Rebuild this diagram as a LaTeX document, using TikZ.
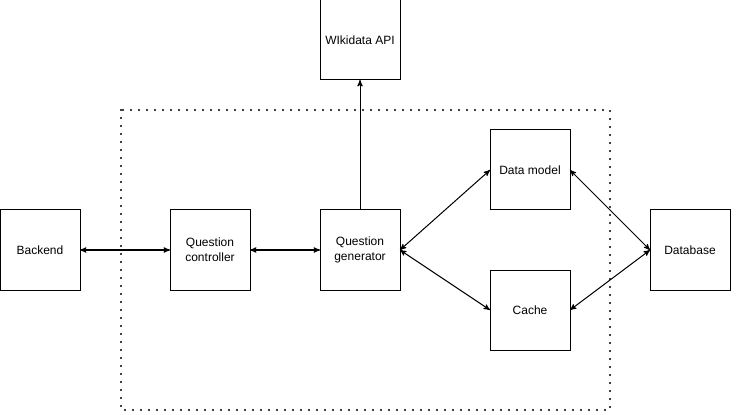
\documentclass[tikz,border=0pt]{standalone}
\usepackage{fontspec}
\setmainfont{Liberation Sans}
\usetikzlibrary{arrows}

\begin{document}
\begin{tikzpicture}[x=0.75pt,y=-0.75pt,<->,>=stealth',line width=0.75pt]
\useasboundingbox (0,0) rectangle (731,413);
\begin{scope}[every node/.style={draw,align=center,minimum width=60pt,minimum height=60pt,inner sep=0pt,outer sep=0pt,font=\fontsize{9}{11}\selectfont}]

\node (backend) at (40,250) {Backend};
\node (qc) at (210,250) {Question\\controller};
\node (qg) at (360,250) {Question\\generator};
\node (wiki) at (360,40) {WIkidata API};
\node (dm) at (530,170) {Data model};
\node (cache) at (530,310) {Cache};
\node (db) at (690,250) {Database};

\end{scope}

\draw [-,line width=1.6pt,line cap=round,dash pattern=on 0pt off 6pt] (121,110) rectangle (610,410);

\draw (backend) -- (qc);
\draw (qc) -- (qg);
\draw [->] (qg) -- (wiki);
\draw (qg.east) -- (dm.west);
\draw (qg.east) -- (cache.west);
\draw (dm.east) -- (db.west);
\draw (cache.east) -- (db.west);

\end{tikzpicture}
\end{document}
